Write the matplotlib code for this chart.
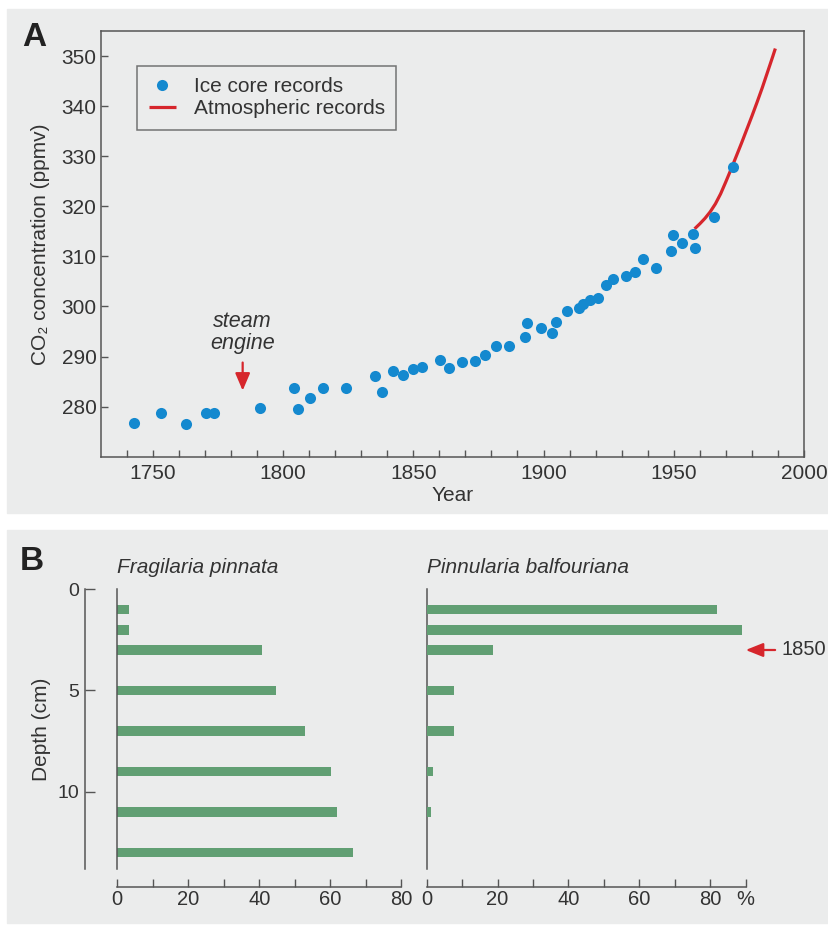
import numpy as np
import matplotlib
matplotlib.use("Agg")
import matplotlib.pyplot as plt
from matplotlib.patches import Rectangle

plt.rcParams['font.family'] = ['Liberation Sans', 'DejaVu Sans']

# --- panel A data: CO2 from ice cores and the atmosphere ---
ice_year = [1742.9, 1753.2, 1762.9, 1770.5, 1773.5, 1791.1, 1804.2, 1805.6, 1810.2, 1815.3,
            1824.3, 1835.3, 1838.1, 1842.3, 1846.2, 1849.8, 1853.3, 1860.3, 1863.9, 1868.6,
            1873.6, 1877.6, 1881.7, 1886.7, 1893.0, 1893.7, 1899.0, 1903.2, 1904.8, 1908.9,
            1913.8, 1915.3, 1917.7, 1921.1, 1923.9, 1926.7, 1931.7, 1935.2, 1938.0, 1943.3,
            1949.0, 1949.7, 1953.0, 1957.3, 1958.2, 1965.4, 1972.6]
ice_co2 = [276.8, 278.7, 276.5, 278.7, 278.7, 279.7, 283.7, 279.5, 281.8, 283.7,
           283.8, 286.1, 282.9, 287.2, 286.3, 287.5, 288.0, 289.3, 287.8, 289.0,
           289.2, 290.3, 292.2, 292.2, 294.0, 296.6, 295.6, 294.6, 296.8, 299.0,
           299.6, 300.4, 301.2, 301.6, 304.2, 305.4, 306.1, 306.8, 309.4, 307.7,
           311.0, 314.2, 312.7, 314.5, 311.7, 317.9, 327.9]

atm_year = [1958, 1960, 1962, 1964, 1966, 1968, 1970, 1972, 1974, 1976, 1978,
            1980, 1982, 1984, 1986, 1988, 1989]
atm_co2 = [315.5, 316.5, 317.6, 318.9, 320.5, 322.5, 324.9, 327.4, 330.0, 332.6, 335.3,
           338.0, 340.8, 343.7, 346.8, 349.9, 351.5]

# --- panel B data: diatom abundance by sediment depth ---
depth = [1, 2, 3, 5, 7, 9, 11, 13]
fragilaria = [3.3, 3.3, 40.9, 44.8, 53.0, 60.3, 61.8, 66.5]
pinnularia = [81.8, 88.9, 18.7, 7.8, 7.8, 1.8, 1.2, 0]

W, H = 829, 925
bg = '#ebecec'
spine_c = '#555555'
text_c = '#333333'
blue = '#1489cf'
red = '#d6262c'
green = '#619f73'

fig = plt.figure(figsize=(W / 100, H / 100), dpi=100, facecolor='white')

# grey panel backgrounds (behind the axes)
fig.patches.append(Rectangle((7 / W, 1 - 513 / H), 1 - 7 / W, 504 / H,
                             transform=fig.transFigure, color=bg, zorder=-5))
fig.patches.append(Rectangle((7 / W, 1 - 923 / H), 1 - 7 / W, 393 / H,
                             transform=fig.transFigure, color=bg, zorder=-5))


def px_axes(x0, x1, y0, y1):
    return fig.add_axes([x0 / W, 1 - y1 / H, (x1 - x0) / W, (y1 - y0) / H])


# ---------------- panel A ----------------
ax = px_axes(100.7, 804, 31, 456.7)
ax.set_facecolor('none')
ax.plot(atm_year, atm_co2, color=red, lw=2.3, label='Atmospheric records', zorder=3,
        solid_capstyle='butt')
ax.plot(ice_year, ice_co2, 'o', color=blue, ms=8, mec='none', label='Ice core records', zorder=4)
ax.set_xlim(1730, 2000)
ax.set_ylim(270, 355)

ax.set_xticks(np.arange(1740, 2001, 10))
ax.set_xticklabels([str(t) if t % 50 == 0 else '' for t in range(1740, 2001, 10)])
ax.set_yticks(np.arange(280, 351, 10))
ax.tick_params(direction='in', length=5, width=1, color=spine_c, labelcolor=text_c,
               labelsize=15)
ax.tick_params(axis='x', pad=5)
ax.tick_params(axis='y', pad=3)
for s in ax.spines.values():
    s.set_color(spine_c)
    s.set_linewidth(1.1)

ax.set_xlabel('Year', fontsize=15, color=text_c)
ax.xaxis.set_label_coords(0.5, -0.068)
ax.set_ylabel('CO\u2082 concentration (ppmv)', fontsize=15, color=text_c)
ax.yaxis.set_label_coords(-0.072, 0.5)

h, l = ax.get_legend_handles_labels()
leg = ax.legend(h[::-1], l[::-1], loc='upper left', bbox_to_anchor=(0.052, 0.918),
                borderaxespad=0, fontsize=15, frameon=True, fancybox=False,
                handlelength=1.3, handletextpad=0.85, borderpad=0.55, labelspacing=0.15)
leg.get_frame().set_edgecolor(spine_c)
leg.get_frame().set_facecolor(bg)
leg.get_frame().set_linewidth(1.1)
for t in leg.get_texts():
    t.set_color(text_c)

ax.text(1784.5, 294.8, 'steam\nengine', ha='center', va='center', fontsize=15.5,
        style='italic', color=text_c, linespacing=1.12)
ax.annotate('', xy=(1784.5, 283.2), xytext=(1784.5, 288.8),
            arrowprops=dict(arrowstyle='-|>,head_length=0.75,head_width=0.32',
                            mutation_scale=14, color=red, lw=1.6, shrinkA=0, shrinkB=0))

fig.text(22 / W, 1 - 46 / H, 'A', fontsize=24, fontweight='bold', color='#222222')
fig.text(20 / W, 1 - 570 / H, 'B', fontsize=24, fontweight='bold', color='#222222')

# ---------------- panel B ----------------
axl = px_axes(117.3, 401.3, 589.3, 868.5)
axr = px_axes(426.7, 745.7, 589.3, 868.5)

for a, vals, xmax in [(axl, fragilaria, 80), (axr, pinnularia, 90)]:
    a.set_facecolor('none')
    a.barh(depth, vals, height=0.47, color=green, zorder=3)
    a.set_xlim(0, xmax)
    a.set_ylim(13.8, 0)
    a.spines['top'].set_visible(False)
    a.spines['right'].set_visible(False)
    a.spines['bottom'].set_position(('outward', 13.5))
    for s in a.spines.values():
        s.set_color(spine_c)
        s.set_linewidth(1.1)
    a.set_xticks(np.arange(0, xmax + 1, 10))
    a.tick_params(axis='x', direction='in', length=6, width=1, color=spine_c,
                  labelcolor=text_c, labelsize=14.5, pad=2)

axl.set_xticklabels([str(t) if t % 20 == 0 else '' for t in range(0, 81, 10)])
axr.set_xticklabels([str(t) if t % 20 == 0 else ('%' if t == 90 else '')
                     for t in range(0, 91, 10)])

# depth axis on the left panel, bar baseline drawn separately
axl.spines['left'].set_position(('outward', 23.6))
axl.set_yticks([0, 5, 10])
axl.tick_params(axis='y', direction='in', length=7, width=1, color=spine_c,
                labelcolor=text_c, labelsize=14, pad=4)
axl.plot([0, 0], [0, 13.8], color=spine_c, lw=1.1, clip_on=False, zorder=4)
axl.set_ylabel('Depth (cm)', fontsize=15, color=text_c)
axl.yaxis.set_label_coords(-0.235, 0.5)

axr.set_yticks([])

axl.set_title('Fragilaria pinnata', loc='left', style='italic', fontsize=15,
              color=text_c, pad=12)
axr.set_title('Pinnularia balfouriana', loc='left', style='italic', fontsize=15,
              color=text_c, pad=12)

axr.annotate('', xy=(90, 3), xytext=(98.3, 3),
             arrowprops=dict(arrowstyle='-|>,head_length=0.75,head_width=0.3',
                             mutation_scale=14, color=red, lw=1.6, shrinkA=0, shrinkB=0),
             annotation_clip=False)
axr.text(100.1, 3, '1850', ha='left', va='center', fontsize=14.5, color=text_c)

fig.savefig('out.png', dpi=100)
